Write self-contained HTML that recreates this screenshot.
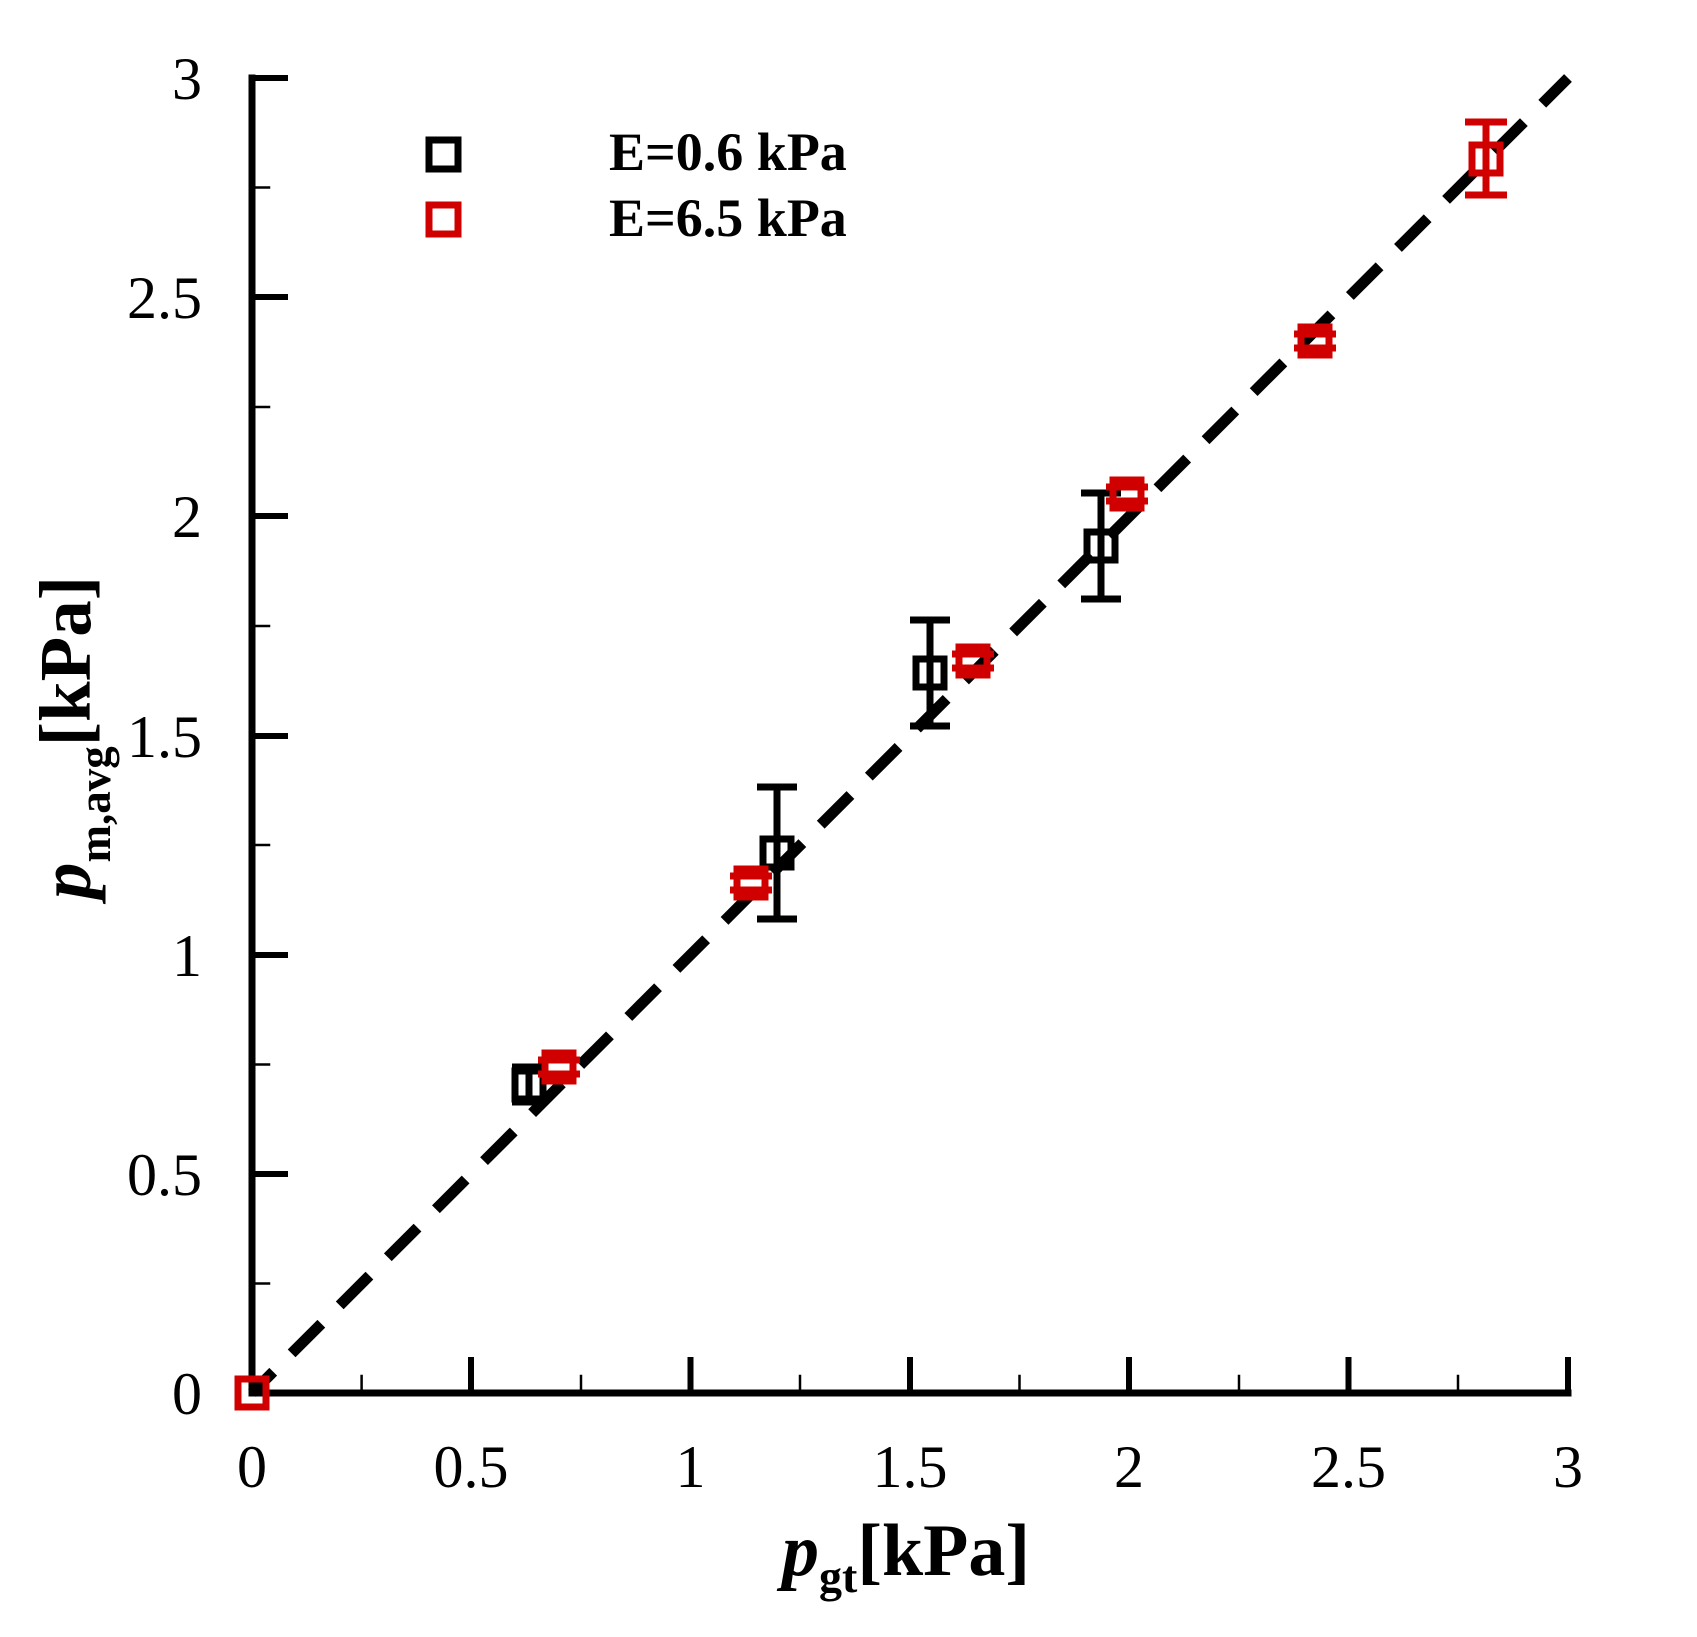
<!DOCTYPE html>
<html><head><meta charset="utf-8"><style>
html,body{margin:0;padding:0;background:#fff;}
svg{display:block;}
text{font-family:"Liberation Serif","Times New Roman",serif;}
</style></head><body>
<svg width="1697" height="1637" viewBox="0 0 1697 1637" xmlns="http://www.w3.org/2000/svg">
<line x1="252" y1="1393" x2="1568" y2="78" stroke="#000" stroke-width="11" stroke-dasharray="42 26" stroke-dashoffset="12"/>
<g stroke="#000" stroke-linecap="square">
<line x1="252" y1="1393" x2="1568" y2="1393" stroke-width="7"/>
<line x1="252" y1="1393" x2="252" y2="78" stroke-width="7"/>
<g stroke-width="6">
<line x1="471" y1="1393" x2="471" y2="1360"/>
<line x1="690.5" y1="1393" x2="690.5" y2="1360"/>
<line x1="910" y1="1393" x2="910" y2="1360"/>
<line x1="1129" y1="1393" x2="1129" y2="1360"/>
<line x1="1348.5" y1="1393" x2="1348.5" y2="1360"/>
<line x1="1568" y1="1393" x2="1568" y2="1360"/>
<line x1="252" y1="1174" x2="285" y2="1174"/>
<line x1="252" y1="955" x2="285" y2="955"/>
<line x1="252" y1="736" x2="285" y2="736"/>
<line x1="252" y1="516" x2="285" y2="516"/>
<line x1="252" y1="297" x2="285" y2="297"/>
<line x1="252" y1="78" x2="285" y2="78"/>
</g>
<g stroke-width="2.5">
<line x1="361.6" y1="1393" x2="361.6" y2="1376"/>
<line x1="581" y1="1393" x2="581" y2="1376"/>
<line x1="800" y1="1393" x2="800" y2="1376"/>
<line x1="1019.5" y1="1393" x2="1019.5" y2="1376"/>
<line x1="1239" y1="1393" x2="1239" y2="1376"/>
<line x1="1458" y1="1393" x2="1458" y2="1376"/>
<line x1="252" y1="1283.5" x2="269" y2="1283.5"/>
<line x1="252" y1="1064.5" x2="269" y2="1064.5"/>
<line x1="252" y1="845" x2="269" y2="845"/>
<line x1="252" y1="626" x2="269" y2="626"/>
<line x1="252" y1="407" x2="269" y2="407"/>
<line x1="252" y1="187.5" x2="269" y2="187.5"/>
</g>
</g>
<g font-size="60" text-anchor="middle">
<text x="252" y="1487">0</text>
<text x="471" y="1487">0.5</text>
<text x="690.5" y="1487">1</text>
<text x="910" y="1487">1.5</text>
<text x="1129" y="1487">2</text>
<text x="1348.5" y="1487">2.5</text>
<text x="1568" y="1487">3</text>
</g>
<g font-size="60" text-anchor="end">
<text x="202" y="1414">0</text>
<text x="202" y="1195">0.5</text>
<text x="202" y="976">1</text>
<text x="202" y="757">1.5</text>
<text x="202" y="537">2</text>
<text x="202" y="318">2.5</text>
<text x="202" y="99">3</text>
</g>
<text x="782" y="1575" font-size="74" font-weight="bold"><tspan font-style="italic">p</tspan><tspan font-size="46" dy="17">gt</tspan><tspan dy="-17">[kPa]</tspan></text>
<text transform="translate(90,899) rotate(-90)" font-size="73" font-weight="bold"><tspan font-style="italic">p</tspan><tspan font-size="45" dy="20">m,avg</tspan><tspan dy="-20">[kPa]</tspan></text>
<g stroke="#000" stroke-width="7" fill="none">
<rect x="515" y="1071" width="28" height="28"/>
<line x1="529" y1="1067" x2="529" y2="1102"/><line x1="512" y1="1067" x2="546" y2="1067"/><line x1="512" y1="1102" x2="546" y2="1102"/>
<rect x="763" y="839" width="28" height="28"/>
<line x1="777" y1="787" x2="777" y2="919"/><line x1="757" y1="787" x2="797" y2="787"/><line x1="757" y1="919" x2="797" y2="919"/>
<rect x="916" y="659" width="28" height="28"/>
<line x1="930" y1="620" x2="930" y2="726"/><line x1="910" y1="620" x2="950" y2="620"/><line x1="910" y1="726" x2="950" y2="726"/>
<rect x="1087" y="532" width="28" height="28"/>
<line x1="1101" y1="493" x2="1101" y2="599"/><line x1="1081" y1="493" x2="1121" y2="493"/><line x1="1081" y1="599" x2="1121" y2="599"/>
</g>
<g stroke="#d00000" stroke-width="7" fill="none">
<rect x="238" y="1379" width="28" height="28"/>
<rect x="545" y="1053" width="28" height="28"/>
<line x1="538" y1="1060" x2="580" y2="1060"/><line x1="538" y1="1074" x2="580" y2="1074"/>
<rect x="737" y="869" width="28" height="28"/>
<line x1="730" y1="876" x2="772" y2="876"/><line x1="730" y1="890" x2="772" y2="890"/>
<rect x="959" y="647" width="28" height="28"/>
<line x1="952" y1="654" x2="994" y2="654"/><line x1="952" y1="668" x2="994" y2="668"/>
<rect x="1113" y="480" width="28" height="28"/>
<line x1="1106" y1="487" x2="1148" y2="487"/><line x1="1106" y1="501" x2="1148" y2="501"/>
<rect x="1301" y="327" width="28" height="28"/>
<line x1="1294" y1="334" x2="1336" y2="334"/><line x1="1294" y1="348" x2="1336" y2="348"/>
<rect x="1472" y="145" width="28" height="28"/>
<line x1="1486" y1="122" x2="1486" y2="195"/><line x1="1465" y1="122" x2="1507" y2="122"/><line x1="1465" y1="195" x2="1507" y2="195"/>
</g>
<rect x="429" y="140" width="29" height="29" stroke="#000" stroke-width="7" fill="none"/>
<rect x="429" y="205" width="29" height="29" stroke="#d00000" stroke-width="7" fill="none"/>
<text x="609" y="170" font-size="54" font-weight="bold">E=0.6 kPa</text>
<text x="609" y="236" font-size="54" font-weight="bold">E=6.5 kPa</text>
</svg>
</body></html>
